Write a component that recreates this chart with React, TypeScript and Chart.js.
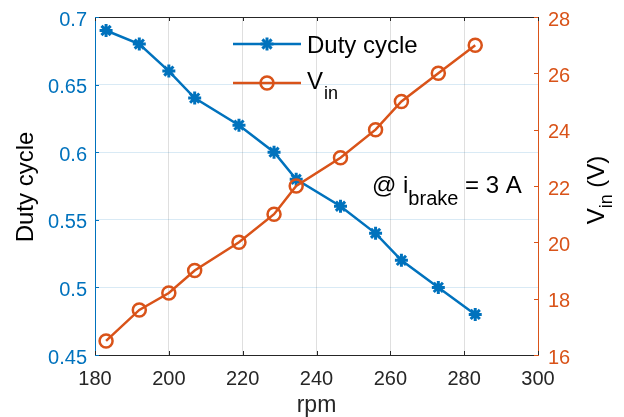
import { useEffect, useRef } from 'react';
import { Chart, registerables } from 'chart.js';
Chart.register(...registerables);

const rpm = [183, 192, 200, 207, 219, 228.5, 234.5, 246.5, 256, 263, 273, 283];
const dutyCycle = [0.69, 0.68, 0.66, 0.64, 0.62, 0.6, 0.58, 0.56, 0.54, 0.52, 0.5, 0.48];
const vinValues = [16.5, 17.6, 18.2, 19, 20, 21, 22, 23, 24, 25, 26, 27];
const xTicks = [180, 200, 220, 240, 260, 280, 300];
const dutyTicks = [0.45, 0.5, 0.55, 0.6, 0.65, 0.7];
const vinTicks = [16, 18, 20, 22, 24, 26, 28];

const BLUE = '#0072BD';
const ORANGE = '#D95319';
const DARK = '#262626';
const FONT = '"Liberation Sans", Arial, Helvetica, sans-serif';

function drawStar(ctx: CanvasRenderingContext2D, x: number, y: number, r: number) {
  for (let k = 0; k < 4; k++) {
    const a = (k * Math.PI) / 4;
    ctx.beginPath();
    ctx.moveTo(x - r * Math.cos(a), y - r * Math.sin(a));
    ctx.lineTo(x + r * Math.cos(a), y + r * Math.sin(a));
    ctx.stroke();
  }
}

export default function App() {
  const ref = useRef<HTMLCanvasElement>(null);
  useEffect(() => {
    const extras = {
      id: 'extras',
      afterDraw(chart: any) {
        const ctx: CanvasRenderingContext2D = chart.ctx;
        const { left, right, top, bottom } = chart.chartArea;
        const sx = chart.scales.x;
        const sy = chart.scales.y;
        const sy1 = chart.scales.y1;
        ctx.save();
        // top border
        ctx.strokeStyle = DARK;
        ctx.lineWidth = 1;
        ctx.beginPath();
        ctx.moveTo(left, top + 0.5);
        ctx.lineTo(right, top + 0.5);
        ctx.stroke();
        const tl = 4;
        xTicks.forEach((v) => {
          const px = Math.round(sx.getPixelForValue(v)) + 0.5;
          ctx.beginPath();
          ctx.moveTo(px, bottom);
          ctx.lineTo(px, bottom - tl);
          ctx.moveTo(px, top);
          ctx.lineTo(px, top + tl);
          ctx.stroke();
        });
        ctx.strokeStyle = BLUE;
        dutyTicks.forEach((v) => {
          const py = Math.round(sy.getPixelForValue(v)) + 0.5;
          ctx.beginPath();
          ctx.moveTo(left, py);
          ctx.lineTo(left + tl, py);
          ctx.stroke();
        });
        ctx.strokeStyle = ORANGE;
        vinTicks.forEach((v) => {
          const py = Math.round(sy1.getPixelForValue(v)) + 0.5;
          ctx.beginPath();
          ctx.moveTo(right, py);
          ctx.lineTo(right - tl, py);
          ctx.stroke();
        });

        // Left title
        ctx.fillStyle = '#000';
        ctx.font = `24px ${FONT}`;
        ctx.textBaseline = 'alphabetic';
        ctx.save();
        ctx.translate(33, 187);
        ctx.rotate(-Math.PI / 2);
        ctx.textAlign = 'center';
        ctx.fillText('Duty cycle', 0, 0);
        ctx.restore();

        // Right title V_in (V)
        ctx.save();
        ctx.translate(604, 190);
        ctx.rotate(-Math.PI / 2);
        ctx.textAlign = 'left';
        const mainF = `24px ${FONT}`;
        const subF = `18px ${FONT}`;
        ctx.font = mainF;
        const wV = ctx.measureText('V').width;
        const wRest = ctx.measureText(' (V)').width;
        ctx.font = subF;
        const wIn = ctx.measureText('in').width;
        const total = wV + wIn + wRest;
        let cx = -total / 2;
        ctx.font = mainF;
        ctx.fillText('V', cx, 0);
        cx += wV;
        ctx.font = subF;
        ctx.fillText('in', cx, 8);
        cx += wIn;
        ctx.font = mainF;
        ctx.fillText(' (V)', cx, 0);
        ctx.restore();

        // Legend
        ctx.lineWidth = 2.5;
        ctx.strokeStyle = BLUE;
        ctx.beginPath();
        ctx.moveTo(233, 44);
        ctx.lineTo(301, 44);
        ctx.stroke();
        ctx.lineWidth = 3;
        drawStar(ctx, 267, 44, 6.5);
        ctx.lineWidth = 2.5;
        ctx.strokeStyle = ORANGE;
        ctx.beginPath();
        ctx.moveTo(233, 83);
        ctx.lineTo(301, 83);
        ctx.stroke();
        ctx.beginPath();
        ctx.arc(267, 83, 6.5, 0, Math.PI * 2);
        ctx.stroke();
        ctx.fillStyle = '#000';
        ctx.textAlign = 'left';
        ctx.font = mainF;
        ctx.fillText('Duty cycle', 307, 53);
        ctx.fillText('V', 307, 89);
        ctx.font = subF;
        ctx.fillText('in', 307 + wV + 1, 99);

        // annotation
        let ax = 372;
        ctx.font = mainF;
        ctx.fillText('@ i', ax, 193);
        ax += ctx.measureText('@ i').width;
        ctx.font = `20px ${FONT}`;
        ctx.fillText('brake', ax, 205);
        ax += ctx.measureText('brake').width;
        ctx.font = mainF;
        ctx.fillText(' = 3 A', ax, 193);
        ctx.restore();
      },
    };

    const chart = new Chart(ref.current as HTMLCanvasElement, {
      type: 'line',
      data: {
        datasets: [
          {
            label: 'Duty cycle',
            data: rpm.map((x, i) => ({ x, y: dutyCycle[i] })),
            yAxisID: 'y',
            borderColor: BLUE,
            backgroundColor: BLUE,
            borderWidth: 2.5,
            pointStyle: 'star',
            pointRadius: 6.5,
            pointBorderWidth: 3,
            pointBorderColor: BLUE,
            order: 1,
          },
          {
            label: 'Vin',
            data: rpm.map((x, i) => ({ x, y: vinValues[i] })),
            yAxisID: 'y1',
            borderColor: ORANGE,
            backgroundColor: 'rgba(0,0,0,0)',
            borderWidth: 2.5,
            pointStyle: 'circle',
            pointRadius: 6.5,
            pointBorderWidth: 2.5,
            pointBorderColor: ORANGE,
            pointBackgroundColor: 'rgba(0,0,0,0)',
            order: 0,
          },
        ],
      },
      options: {
        responsive: false,
        animation: false,
        layout: { padding: { top: 17, left: 0, right: 0, bottom: 0 } },
        plugins: { legend: { display: false }, tooltip: { enabled: false } },
        scales: {
          x: {
            type: 'linear',
            min: 180,
            max: 300,
            afterBuildTicks: (s: any) => {
              s.ticks = xTicks.map((v) => ({ value: v }));
            },
            afterFit: (s: any) => {
              s.height = 62;
            },
            ticks: { color: DARK, font: { family: FONT, size: 20 }, padding: 12 },
            grid: { color: 'rgba(38,38,38,0.15)', drawTicks: false },
            border: { color: DARK, width: 1 },
            title: {
              display: true,
              text: 'rpm',
              color: DARK,
              font: { family: FONT, size: 23, lineHeight: 1 },
              padding: { top: 0, bottom: 0 },
            },
          },
          y: {
            type: 'linear',
            position: 'left',
            min: 0.45,
            max: 0.7,
            afterBuildTicks: (s: any) => {
              s.ticks = dutyTicks.map((v) => ({ value: v }));
            },
            afterFit: (s: any) => {
              s.width = 95;
            },
            ticks: {
              color: BLUE,
              font: { family: FONT, size: 20, lineHeight: 0.5 },
              padding: 8,
              labelOffset: 3,
              callback: (v: any) => String(Number(Number(v).toFixed(2))),
            },
            grid: { color: 'rgba(0,114,189,0.15)', drawTicks: false },
            border: { color: BLUE, width: 1 },
          },
          y1: {
            type: 'linear',
            position: 'right',
            min: 16,
            max: 28,
            afterBuildTicks: (s: any) => {
              s.ticks = vinTicks.map((v) => ({ value: v }));
            },
            afterFit: (s: any) => {
              s.width = 86;
            },
            ticks: {
              color: ORANGE,
              font: { family: FONT, size: 20, lineHeight: 0.5 },
              padding: 10,
              labelOffset: 3,
            },
            grid: { drawOnChartArea: false, drawTicks: false },
            border: { color: ORANGE, width: 1 },
          },
        },
      },
      plugins: [extras],
    } as any);
    return () => chart.destroy();
  }, []);
  return (
    <div style={{ position: 'fixed', left: 0, top: 0, width: 624, height: 417, background: '#fff' }}>
      <canvas ref={ref} width={624} height={417} style={{ width: 624, height: 417 }} />
    </div>
  );
}
